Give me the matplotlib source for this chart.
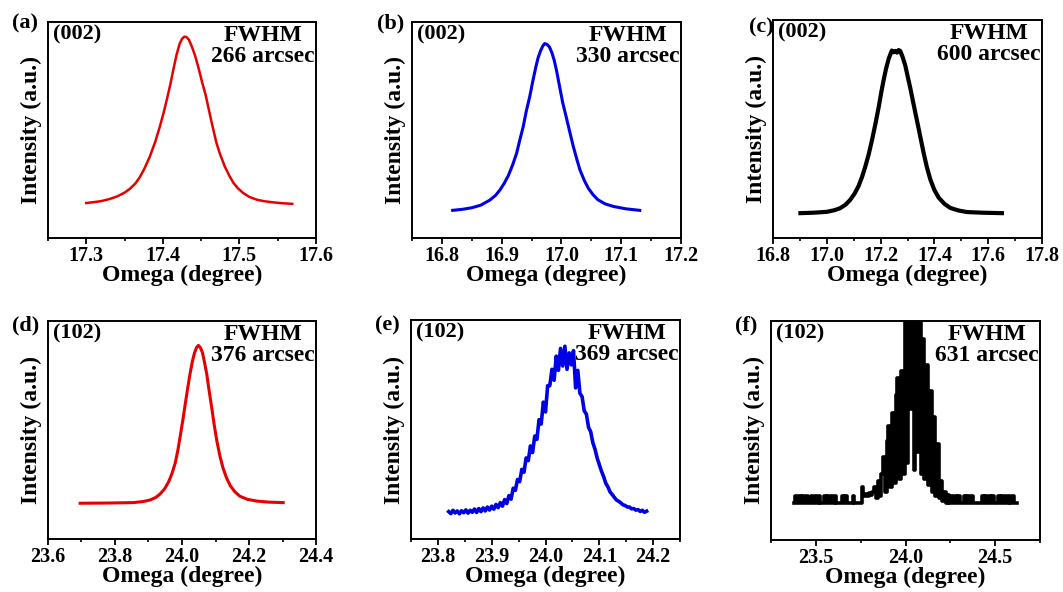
#!/usr/bin/env python3
"""
Rocking curves (omega scans) of the (002) and (102) reflections
for three samples, with FWHM values.
"""

import numpy as np
import matplotlib
matplotlib.use("Agg")
import matplotlib.pyplot as plt
from matplotlib.ticker import MultipleLocator, FormatStrFormatter

plt.rcParams['font.family'] = ['Liberation Serif', 'DejaVu Serif']
plt.rcParams['font.weight'] = 'bold'

# (a) (002), red sample
omega_a = [17.300, 17.310, 17.320, 17.330, 17.340, 17.350, 17.357, 17.364, 17.370,
           17.376, 17.383, 17.390, 17.396, 17.401, 17.405, 17.410, 17.414, 17.418,
           17.422, 17.425, 17.428, 17.431, 17.434, 17.438, 17.442, 17.446, 17.451,
           17.456, 17.460, 17.465, 17.470, 17.475, 17.481, 17.487, 17.492, 17.498,
           17.505, 17.513, 17.523, 17.533, 17.544, 17.556, 17.569]
inten_a = [0.162, 0.166, 0.171, 0.180, 0.192, 0.210, 0.228, 0.252, 0.282,
           0.322, 0.377, 0.445, 0.515, 0.580, 0.638, 0.715, 0.785, 0.850,
           0.900, 0.922, 0.932, 0.930, 0.918, 0.885, 0.845, 0.795, 0.725,
           0.660, 0.595, 0.515, 0.440, 0.385, 0.330, 0.287, 0.256, 0.230,
           0.208, 0.190, 0.177, 0.170, 0.165, 0.161, 0.158]

# (b) (002), blue sample
omega_b = [16.818, 16.835, 16.850, 16.865, 16.880, 16.890, 16.897, 16.904, 16.911,
           16.918, 16.925, 16.930, 16.936, 16.941, 16.947, 16.952, 16.957, 16.961,
           16.965, 16.969, 16.972, 16.976, 16.980, 16.984, 16.988, 16.992, 16.997,
           17.002, 17.008, 17.014, 17.020, 17.026, 17.031, 17.038, 17.045, 17.053,
           17.061, 17.073, 17.087, 17.108, 17.131]
inten_b = [0.128, 0.133, 0.140, 0.152, 0.175, 0.198, 0.222, 0.252, 0.288,
           0.336, 0.392, 0.450, 0.515, 0.585, 0.655, 0.725, 0.790, 0.835,
           0.866, 0.890, 0.900, 0.896, 0.884, 0.858, 0.822, 0.772, 0.700,
           0.628, 0.560, 0.490, 0.422, 0.362, 0.315, 0.268, 0.230, 0.200,
           0.177, 0.158, 0.146, 0.135, 0.128]

# (c) (002), black sample
omega_c = [16.902, 16.950, 17.000, 17.030, 17.050, 17.070, 17.087, 17.103, 17.118,
           17.131, 17.143, 17.156, 17.168, 17.181, 17.193, 17.202, 17.211, 17.220,
           17.230, 17.237, 17.242, 17.248, 17.255, 17.261, 17.267, 17.273, 17.282,
           17.292, 17.300, 17.310, 17.322, 17.335, 17.348, 17.360, 17.372, 17.385,
           17.400, 17.416, 17.437, 17.459, 17.490, 17.521, 17.580, 17.651]
inten_c = [0.114, 0.116, 0.120, 0.128, 0.137, 0.153, 0.175, 0.203, 0.238,
           0.280, 0.327, 0.385, 0.449, 0.525, 0.601, 0.665, 0.723, 0.775,
           0.822, 0.845, 0.860, 0.852, 0.858, 0.850, 0.862, 0.858, 0.830,
           0.790, 0.745, 0.690, 0.617, 0.540, 0.462, 0.390, 0.325, 0.268,
           0.220, 0.185, 0.157, 0.138, 0.126, 0.119, 0.116, 0.114]

# (d) (102), red sample
omega_d = [23.696, 23.780, 23.855, 23.885, 23.905, 23.922, 23.935, 23.948, 23.960,
           23.970, 23.980, 23.988, 23.995, 24.003, 24.010, 24.017, 24.024, 24.031,
           24.037, 24.043, 24.049, 24.055, 24.061, 24.067, 24.074, 24.081, 24.089,
           24.096, 24.104, 24.113, 24.122, 24.133, 24.144, 24.158, 24.173, 24.195,
           24.223, 24.260, 24.302]
inten_d = [0.164, 0.165, 0.167, 0.172, 0.179, 0.191, 0.207, 0.230, 0.262,
           0.300, 0.350, 0.410, 0.475, 0.550, 0.622, 0.692, 0.758, 0.815,
           0.852, 0.877, 0.888, 0.878, 0.855, 0.812, 0.755, 0.680, 0.600,
           0.525, 0.450, 0.382, 0.328, 0.280, 0.245, 0.216, 0.196, 0.182,
           0.174, 0.169, 0.167]

# (e) (102), blue sample, scan start / step
start_e, step_e = 23.820, 0.004
inten_e = [0.125, 0.116, 0.131, 0.119, 0.128, 0.115, 0.129, 0.120, 0.133, 0.118,
           0.131, 0.122, 0.137, 0.121, 0.139, 0.125, 0.142, 0.128, 0.146, 0.132,
           0.150, 0.136, 0.158, 0.143, 0.166, 0.150, 0.180, 0.162, 0.198, 0.182,
           0.232, 0.222, 0.272, 0.262, 0.318, 0.305, 0.370, 0.358, 0.425, 0.395,
           0.470, 0.455, 0.545, 0.525, 0.625, 0.580, 0.700, 0.700, 0.775, 0.725,
           0.835, 0.770, 0.870, 0.790, 0.880, 0.775, 0.850, 0.795, 0.860, 0.690,
           0.770, 0.665, 0.650, 0.585, 0.570, 0.510, 0.490, 0.440, 0.410, 0.370,
           0.340, 0.310, 0.285, 0.255, 0.238, 0.215, 0.203, 0.190, 0.178, 0.172,
           0.165, 0.156, 0.153, 0.146, 0.146, 0.138, 0.139, 0.132, 0.134, 0.126,
           0.131, 0.122, 0.127]

# (f) (102), black sample, scan start / step
start_f, step_f = 23.38, 0.01
inten_f = [0.17, 0.20, 0.17, 0.20, 0.17, 0.20, 0.17, 0.20, 0.17, 0.17,
           0.20, 0.17, 0.20, 0.17, 0.20, 0.17, 0.17, 0.20, 0.17, 0.20,
           0.17, 0.20, 0.17, 0.20, 0.17, 0.17, 0.17, 0.20, 0.17, 0.20,
           0.17, 0.17, 0.17, 0.20, 0.17, 0.17, 0.17, 0.17, 0.24, 0.20,
           0.21, 0.20, 0.215, 0.205, 0.22, 0.24, 0.19, 0.27, 0.20, 0.30,
           0.38, 0.22, 0.45, 0.52, 0.24, 0.58, 0.26, 0.66, 0.74, 0.28,
           0.77, 0.30, 1.10, 0.35, 1.10, 0.60, 1.10, 0.32, 1.10, 0.40,
           1.10, 0.30, 0.92, 0.28, 0.80, 0.25, 0.68, 0.22, 0.56, 0.20,
           0.44, 0.19, 0.27, 0.18, 0.22, 0.17, 0.205, 0.17, 0.20, 0.17,
           0.20, 0.17, 0.20, 0.17, 0.17, 0.20, 0.17, 0.20, 0.17, 0.20,
           0.17, 0.17, 0.17, 0.17, 0.17, 0.20, 0.17, 0.20, 0.17, 0.20,
           0.17, 0.20, 0.17, 0.17, 0.20, 0.17, 0.20, 0.17, 0.20, 0.17,
           0.20, 0.17, 0.20, 0.17, 0.17]

omega_e = np.round(start_e + step_e * np.arange(len(inten_e)), 4)
omega_f = np.round(start_f + step_f * np.arange(len(inten_f)), 4)

PANELS = [
    # label, reflection, fwhm, x, y, color, lw, xlim, major, minor, axes box (px), drawstyle, label pos (px)
    ('(a)', '(002)', '266', omega_a, inten_a, '#e60000', 1.8, (17.25, 17.6), 0.1, 0.05, (48, 22, 316, 238), None, (12, 13)),
    ('(b)', '(002)', '330', omega_b, inten_b, '#0000e6', 2.2, (16.75, 17.2), 0.1, 0.05, (412, 22, 681, 238), None, (377, 13)),
    ('(c)', '(002)', '600', omega_c, inten_c, 'black', 3.0, (16.8, 17.8), 0.2, 0.1, (773, 20, 1042, 238), None, (749, 17)),
    ('(d)', '(102)', '376', omega_d, inten_d, '#e60000', 2.2, (23.6, 24.4), 0.2, 0.1, (48, 321, 316, 539), None, (12, 315)),
    ('(e)', '(102)', '369', omega_e, inten_e, '#0000e6', 2.6, (23.75, 24.25), 0.1, 0.05, (411, 320, 680, 539), None, (375, 315)),
    ('(f)', '(102)', '631', omega_f, inten_f, 'black', 2.6, (23.25, 24.75), 0.5, 0.25, (771, 321, 1040, 540), 'steps-mid', (735, 315)),
]

W, H = 1063, 592
fig = plt.figure(figsize=(W / 100, H / 100), dpi=100)

for label, refl, fwhm, x, y, color, lw, xlim, major, minor, (x0, y0, x1, y1), ds, (lx, ly) in PANELS:
    ax = fig.add_axes([x0 / W, 1 - y1 / H, (x1 - x0) / W, (y1 - y0) / H])
    kw = {'drawstyle': ds} if ds else {}
    ax.plot(x, y, color=color, lw=lw, solid_joinstyle='round', **kw)

    ax.set_xlim(*xlim)
    ax.set_ylim(0, 1)
    ax.xaxis.set_major_locator(MultipleLocator(major))
    ax.xaxis.set_minor_locator(MultipleLocator(minor))
    ax.xaxis.set_major_formatter(FormatStrFormatter('%.1f'))
    ax.set_yticks([])
    ax.tick_params(axis='x', which='major', direction='out', length=4.5, width=1.3,
                   labelsize=14.5, pad=1.5)
    ax.tick_params(axis='x', which='minor', direction='out', length=2.5, width=1.2)
    for lab in ax.get_xticklabels():
        lab.set_fontweight('bold')
    for sp in ax.spines.values():
        sp.set_linewidth(1.4)

    ax.set_xlabel('Omega (degree)', fontsize=17, fontweight='bold', labelpad=-1)
    ax.set_ylabel('Intensity (a.u.)', fontsize=17, fontweight='bold', labelpad=4)

    ax.text(0.02, 0.99, refl, transform=ax.transAxes, ha='left', va='top',
            fontsize=16, fontweight='bold')
    ax.text(0.995, 0.985, 'FWHM\n%s arcsec' % fwhm, transform=ax.transAxes,
            ha='right', va='top', multialignment='center', linespacing=1.0,
            fontsize=17, fontweight='bold')

    fig.text(lx / W, 1 - ly / H, label, ha='left', va='top',
             fontsize=16, fontweight='bold')

fig.savefig('out.png', dpi=100)
